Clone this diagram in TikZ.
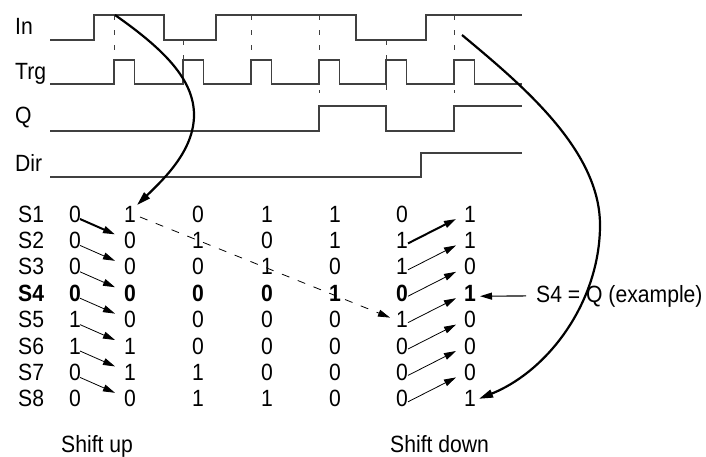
\documentclass[tikz,border=0pt]{standalone}
\usepackage{fontspec}
\setmainfont{Liberation Sans}[FakeStretch=0.9]
\usetikzlibrary{arrows.meta}

\begin{document}
\begin{tikzpicture}[x=1pt, y=-1pt,
  font=\fontsize{23.5}{28}\selectfont,
  lbl/.style={anchor=base west, inner sep=0pt},
  bit/.style={anchor=base, inner sep=0pt},
  wave/.style={draw=black!75, line width=1.2pt},
  edge/.style={draw=black!75, line width=0.9pt, dash pattern=on 5pt off 10pt},
  sarr/.style={-{Triangle[length=12pt, width=7pt]}, line width=0.8pt},
  tarr/.style={sarr, line width=2pt},
  bigarr/.style={-{Triangle[length=14pt, width=8pt]}, line width=2.2pt},
  darr/.style={sarr, dash pattern=on 8pt off 9pt}]
\useasboundingbox (0,0) rectangle (706,456);
\node[lbl] (in) at (15,34) {In};
\node[lbl] (trg) at (15,79.5) {Trg};
\node[lbl] (q) at (15,123.5) {Q};
\node[lbl] (dir) at (15,171) {Dir};
\draw[wave] (50,40) -- (94,40) -- (94,15) -- (164,15) -- (164,40) -- (216,40) -- (216,15) -- (356,15) -- (356,40) -- (426,40) -- (426,15) -- (522,15);
\draw[wave] (50,84) \foreach \p in {114,183,251,319,386,454} { -- (\p,84) -- (\p,60) -- (\p+20.5,60) -- (\p+20.5,84) } -- (522,84);
\draw[wave] (50,131) -- (319,131) -- (319,106) -- (386,106) -- (386,131) -- (454,131) -- (454,106) -- (522,106);
\draw[wave] (50,177) -- (421,177) -- (421,153) -- (522,153);
\foreach \p/\a/\b in {114/15/60, 183/40/60, 251/15/60, 319/15/93, 386/40/93, 454/15/93} \draw[edge] (\p,\a) -- (\p,\b);
\coordinate (up) at (115,15);
\coordinate (down) at (462,35);
\foreach \r in {1,...,8} \node[lbl] (s\r) at (18,195.6+26.4*\r) {\ifnum\r=4\bfseries\fi S\r};
\foreach \x/\bits [count=\c from 0] in {75/{0,0,0,0,1,1,0,0}, 130/{1,0,0,0,0,1,1,0}, 198/{0,1,0,0,0,0,1,1}, 267/{1,0,1,0,0,0,0,1}, 335/{1,1,0,1,0,0,0,0}, 402/{0,1,1,0,1,0,0,0}, 470/{1,1,0,1,0,0,0,1}}
  \foreach \b [count=\r] in \bits \node[bit] (c\c r\r) at (\x,195.6+26.4*\r) {\ifnum\r=4\bfseries\fi\b};
\draw[tarr] ([shift={(5,-3)}]c0r1.base) -- ([shift={(-15,-14)}]c1r2.base);
\foreach \r in {2,...,7} {
  \pgfmathtruncatemacro\n{\r+1}
  \draw[sarr] ([shift={(5,-3)}]c0r\r.base) -- ([shift={(-15,-14)}]c1r\n.base);
}
\draw[tarr] ([shift={(6,-5)}]c5r2.base) -- ([shift={(-14,-3)}]c6r1.base);
\foreach \r in {3,...,8} {
  \pgfmathtruncatemacro\n{\r-1}
  \draw[sarr] ([shift={(6,-5)}]c5r\r.base) -- ([shift={(-14,-3)}]c6r\n.base);
}
\draw[darr] ([shift={(10,-5)}]c1r1.base) -- ([shift={(-12,-10)}]c5r5.base);
\node[lbl] (note) at (536,302) {S4 = Q (example)};
\draw[sarr, line width=1.1pt] ([xshift=-10pt]note.west) -- ([shift={(10,-5)}]c6r4.base);
\draw[bigarr] (up) .. controls (165,50) and (194,80) .. (194,115) .. controls (194,150) and (165,178) .. ([shift={(7,-17)}]c1r1.base);
\draw[bigarr] (down) .. controls (522,85) and (600,150) .. (600,225) .. controls (600,300) and (550,370) .. ([shift={(9,-8)}]c6r8.base);
\node[lbl] (su) at (61,452) {Shift up};
\node[lbl] (sd) at (390,452) {Shift down};
\end{tikzpicture}
\end{document}
